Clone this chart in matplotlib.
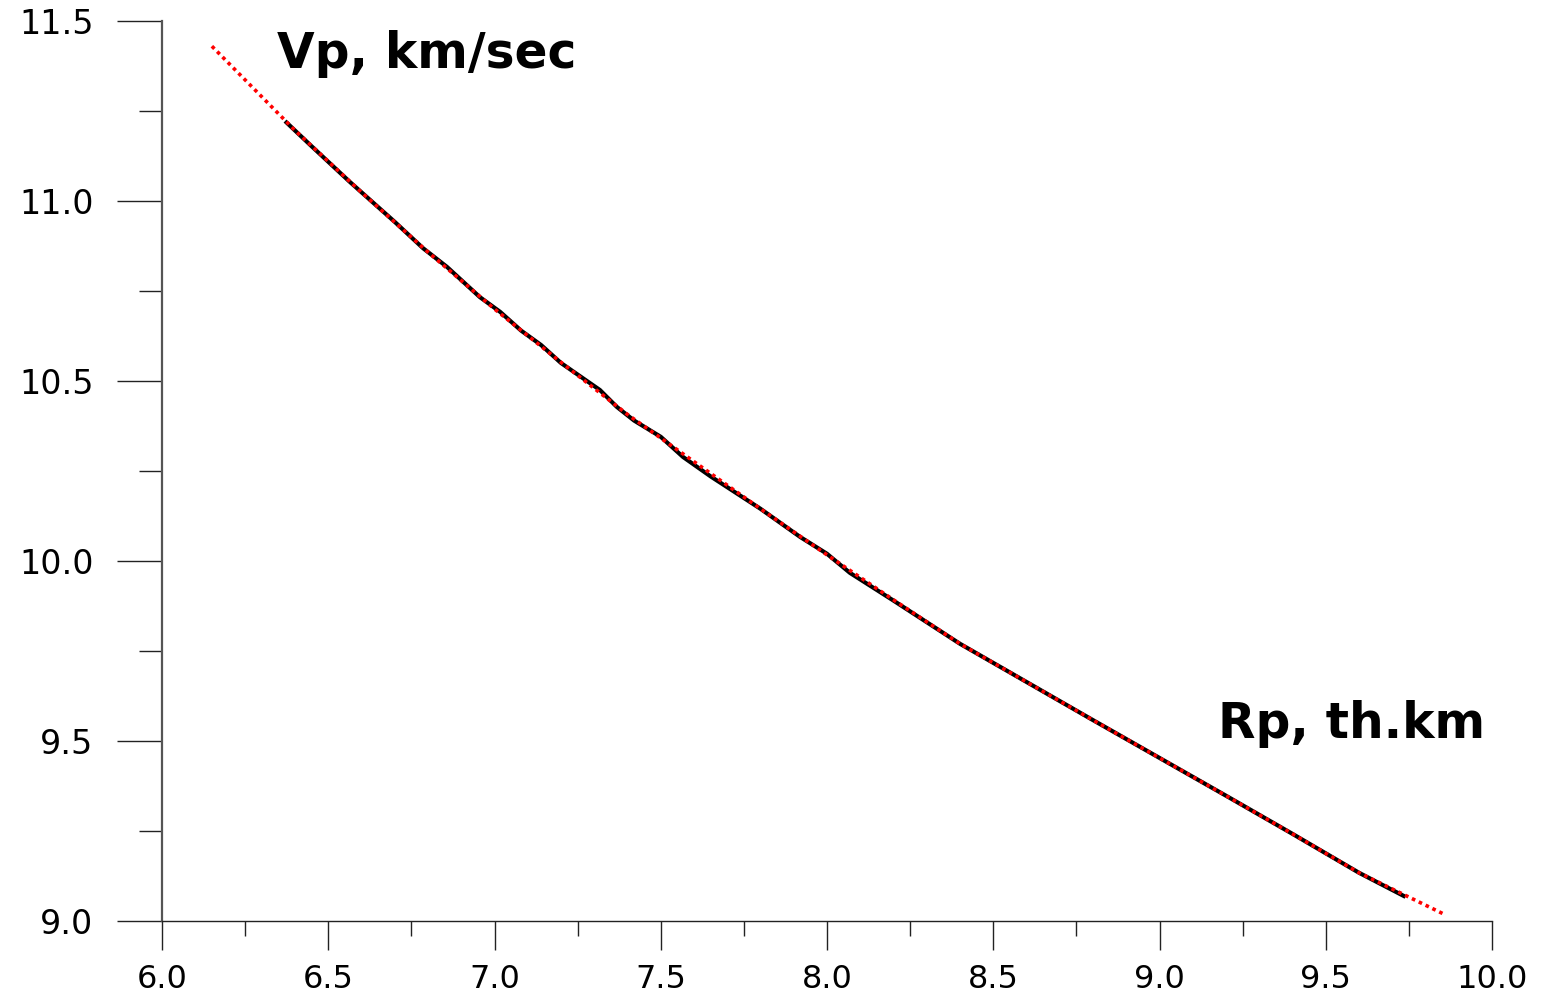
import matplotlib
matplotlib.use("Agg")
import matplotlib.pyplot as plt
from matplotlib.ticker import MultipleLocator, FormatStrFormatter

# Measured P-wave velocity profile (black) and its smooth approximation (red dotted)
rp_measured = [6.37, 6.45, 6.565, 6.70, 6.785, 6.857, 6.956, 7.017, 7.08, 7.14,
               7.20, 7.317, 7.368, 7.42, 7.50, 7.567, 7.65, 7.80, 7.919, 8.00,
               8.069, 8.20, 8.40, 8.60, 8.80, 9.00, 9.20, 9.40, 9.60, 9.74]
vp_measured = [11.222, 11.152, 11.053, 10.942, 10.869, 10.817, 10.733, 10.692, 10.640, 10.600,
               10.550, 10.475, 10.428, 10.390, 10.345, 10.289, 10.235, 10.145, 10.067, 10.020,
               9.967, 9.890, 9.770, 9.664, 9.558, 9.453, 9.348, 9.242, 9.134, 9.067]

rp_fit = [6.15, 6.4, 6.6, 6.8, 7.0, 7.2, 7.4, 7.6, 7.8, 8.0,
          8.2, 8.4, 8.6, 8.8, 9.0, 9.2, 9.4, 9.6, 9.86]
vp_fit = [11.430, 11.196, 11.024, 10.858, 10.700, 10.552, 10.407, 10.276, 10.145, 10.017,
          9.892, 9.770, 9.664, 9.558, 9.453, 9.348, 9.242, 9.134, 9.017]

x_label = "Rp, th.km"
y_label = "Vp, km/sec"

plt.rcParams["font.family"] = ["DejaVu Sans"]

fig = plt.figure(figsize=(15.46, 9.97), dpi=100)
ax = fig.add_axes([162 / 1546, 76 / 997, (1492 - 162) / 1546, (921 - 21) / 997])

ax.plot(rp_measured, vp_measured, color="black", lw=3.0, solid_capstyle="butt", zorder=3)
ax.plot(rp_fit, vp_fit, color="red", lw=2.6, linestyle=(0, (1.0, 1.1)), zorder=4)

ax.set_xlim(6.0, 10.0)
ax.set_ylim(9.0, 11.5)

ax.spines["top"].set_visible(False)
ax.spines["right"].set_visible(False)
ax.spines["left"].set_color("#555555")
ax.spines["left"].set_linewidth(1.6)
ax.spines["bottom"].set_color("#222222")
ax.spines["bottom"].set_linewidth(1.0)

ax.xaxis.set_major_locator(MultipleLocator(0.5))
ax.xaxis.set_minor_locator(MultipleLocator(0.25))
ax.yaxis.set_major_locator(MultipleLocator(0.5))
ax.yaxis.set_minor_locator(MultipleLocator(0.25))
ax.xaxis.set_major_formatter(FormatStrFormatter("%.1f"))
ax.yaxis.set_major_formatter(FormatStrFormatter("%.1f"))

ax.tick_params(axis="x", which="major", direction="out", length=21, width=1.0,
               color="#222222", labelsize=23, pad=10)
ax.tick_params(axis="x", which="minor", direction="out", length=10.8, width=1.0,
               color="#222222")
ax.tick_params(axis="y", which="major", direction="out", length=32.4, width=1.0,
               color="#222222", labelsize=24, pad=17)
ax.tick_params(axis="y", which="minor", direction="out", length=16.6, width=1.0,
               color="#222222")

ax.text(6.346, 11.37, y_label, fontsize=35, fontweight="bold", ha="left",
        va="baseline", color="black")
ax.text(9.176, 9.508, x_label, fontsize=35, fontweight="bold", ha="left",
        va="baseline", color="black")

fig.savefig("out.png", dpi=100, facecolor="white")
